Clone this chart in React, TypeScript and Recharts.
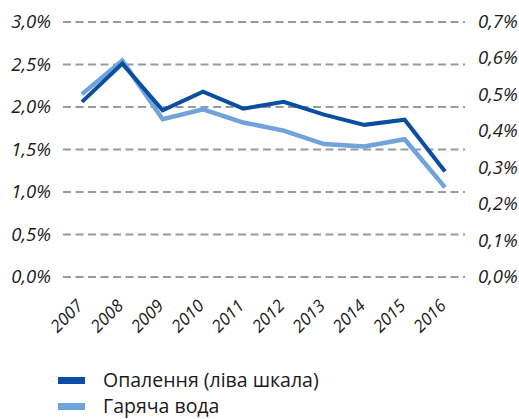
import React from 'react';
import { LineChart, Line, XAxis, YAxis, CartesianGrid } from 'recharts';

// Years on the category axis
const years = ['2007', '2008', '2009', '2010', '2011', '2012', '2013', '2014', '2015', '2016'];

// Heating, % (left scale)
const heating = [2.06, 2.51, 1.96, 2.18, 1.98, 2.06, 1.91, 1.79, 1.85, 1.24];

// Hot water, % (right scale)
const hotWater = [0.502, 0.594, 0.433, 0.46, 0.424, 0.402, 0.365, 0.358, 0.378, 0.246];

const leftTicks = [0, 0.5, 1, 1.5, 2, 2.5, 3];
const rightTicks = [0, 0.1, 0.2, 0.3, 0.4, 0.5, 0.6, 0.7];

const HEAT_COLOR = '#0a4ea2';
const WATER_COLOR = '#6fa3da';
const GRID_COLOR = '#9898a8';
const TEXT_COLOR = '#1a1a1a';
const FONT = '"Open Sans", "Noto Sans", sans-serif';

const data = years.map((year, i) => ({
  year,
  heating: heating[i],
  hotWater: hotWater[i]
}));

const fmt = (v: number) => `${v.toFixed(1).replace('.', ',')}%`;

// Rotated year labels under the axis
const YearTick = (props: any) => {
  const { x, y, payload } = props;
  return (
    <g transform={`translate(${x + 2},${y + 22})`}>
      <text
        x={0}
        y={0}
        textAnchor="end"
        transform="rotate(-45)"
        fill={TEXT_COLOR}
        fontSize={17}
        fontStyle="italic"
        fontFamily={FONT}
      >
        {payload.value}
      </text>
    </g>
  );
};

// Percent labels on both value axes
const PercentTick = (props: any) => {
  const { x, y, payload, textAnchor } = props;
  return (
    <text
      x={x}
      y={y + 6}
      textAnchor={textAnchor}
      fill={TEXT_COLOR}
      fontSize={18.5}
      fontStyle="italic"
      fontFamily={FONT}
    >
      {fmt(payload.value)}
    </text>
  );
};

const legendItems = [
  { label: 'Опалення (ліва шкала)', color: HEAT_COLOR },
  { label: 'Гаряча вода', color: WATER_COLOR }
];

export default function App() {
  return (
    <div style={{ position: 'absolute', left: 0, top: 0, width: 519, height: 419, background: '#fff', overflow: 'hidden' }}>
      <LineChart
        width={519}
        height={419}
        data={data}
        margin={{ top: 22, right: 0, bottom: 82, left: 0 }}
      >
        <CartesianGrid
          yAxisId="left"
          vertical={false}
          stroke={GRID_COLOR}
          strokeWidth={2}
          strokeDasharray="8 4.5"
        />
        <XAxis
          dataKey="year"
          height={60}
          axisLine={false}
          tickLine={false}
          interval={0}
          padding={{ left: 19, right: 20 }}
          tick={<YearTick />}
        />
        <YAxis
          yAxisId="left"
          width={63}
          domain={[0, 3]}
          ticks={leftTicks}
          axisLine={false}
          tickLine={false}
          tickSize={0}
          tickMargin={12}
          tick={<PercentTick />}
        />
        <YAxis
          yAxisId="right"
          orientation="right"
          width={54}
          domain={[0, 0.7]}
          ticks={rightTicks}
          axisLine={false}
          tickLine={false}
          tickSize={0}
          tickMargin={13}
          tick={<PercentTick />}
        />
        <Line
          yAxisId="right"
          dataKey="hotWater"
          stroke={WATER_COLOR}
          strokeWidth={4.5}
          dot={false}
          isAnimationActive={false}
        />
        <Line
          yAxisId="left"
          dataKey="heating"
          stroke={HEAT_COLOR}
          strokeWidth={4}
          dot={false}
          isAnimationActive={false}
        />
      </LineChart>
      <div style={{ position: 'absolute', left: 58, top: 367, fontFamily: FONT, color: TEXT_COLOR }}>
        {legendItems.map(item => (
          <div key={item.label} style={{ display: 'flex', alignItems: 'center', height: 26 }}>
            <span style={{ display: 'inline-block', width: 27, height: 7, background: item.color, marginRight: 18 }} />
            <span style={{ fontSize: 19.5, lineHeight: '18px' }}>{item.label}</span>
          </div>
        ))}
      </div>
    </div>
  );
}
